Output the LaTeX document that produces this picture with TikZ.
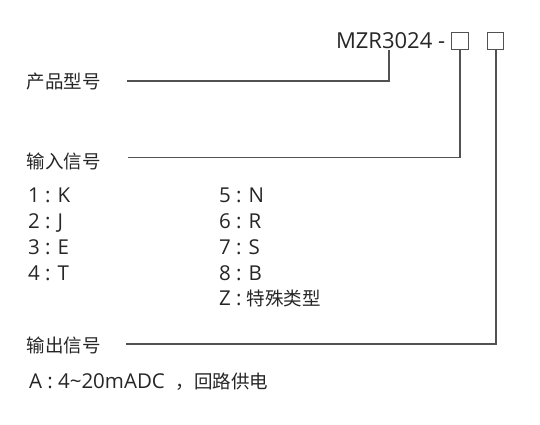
\documentclass[tikz,border=0pt]{standalone}
\usepackage{fontspec}
\setmainfont{Open Sans}
\newfontfamily\cjkfont{Noto Sans CJK SC}
\newcommand\zh[1]{{\cjkfont\fontsize{18.5}{20}\selectfont #1}}
\begin{document}
\begin{tikzpicture}[x=1pt,y=-1pt,
  txt/.style={anchor=base west,inner sep=0pt,outer sep=0pt,text=black!85,font=\fontsize{20.5}{22}\selectfont},
  big/.style={txt,font=\fontsize{22}{24}\selectfont},
  conn/.style={draw=black!68,line width=1.3pt},
  sq/.style={draw=black!68,line width=1pt,minimum width=16.5pt,minimum height=16.5pt,inner sep=0pt,outer sep=0pt}]
\useasboundingbox (0,0) rectangle (540,424);
\node[big] (model) at (336,48.5) {MZR3024 -};
\node[sq] (b1) at (460,41) {};
\node[sq] (b2) at (495.5,41) {};
\node[txt] (l1) at (26.5,88) {\zh{产品型号}};
\node[txt] (l2) at (26.5,168.5) {\zh{输入信号}};
\node[txt] (r1) at (28,202.7) {1 : K};
\node[txt] (r2) at (28,228.5) {2 : J};
\node[txt] (r3) at (28,254.3) {3 : E};
\node[txt] (r4) at (28,280.1) {4 : T};
\node[txt] (s1) at (219,202.7) {5 : N};
\node[txt] (s2) at (219,228.5) {6 : R};
\node[txt] (s3) at (219,254.3) {7 : S};
\node[txt] (s4) at (219,280.1) {8 : B};
\node[txt] (s5) at (219,305.9) {Z : \zh{特殊类型}};
\node[txt] (l3) at (26.5,352) {\zh{输出信号}};
\node[txt] (a1) at (29,388.3) {A : 4\textasciitilde 20mADC \ \zh{，回路供电}};
\coordinate (m0) at (389,49.5);
\coordinate (c1) at (389,81);
\coordinate (e1) at (126.5,81);
\coordinate (c2) at (460,157.5);
\coordinate (e2) at (127.5,157.5);
\coordinate (c3) at (496,344);
\coordinate (e3) at (126,344);
\draw[conn] (m0) -- (c1) -- (e1);
\draw[conn] (b1.south) -- (c2) -- (e2);
\draw[conn] (b2.south -| c3) -- (c3) -- (e3);
\end{tikzpicture}
\end{document}
